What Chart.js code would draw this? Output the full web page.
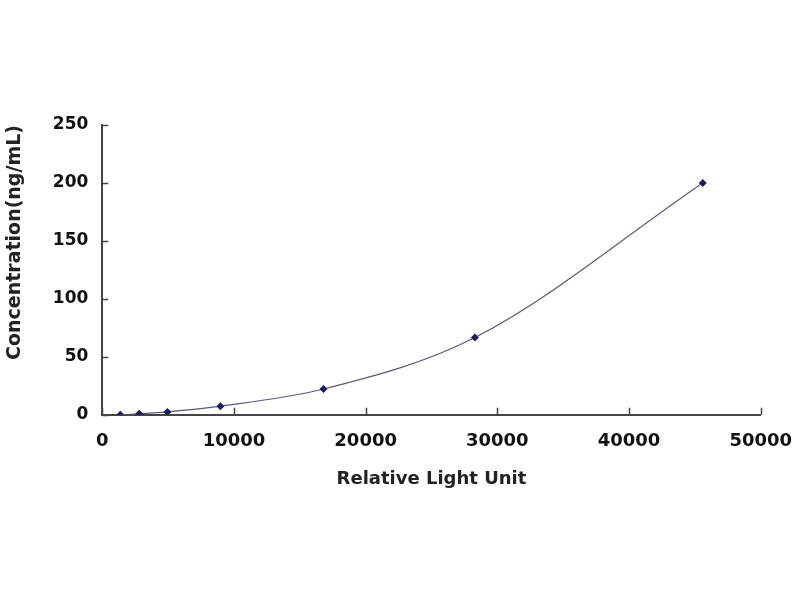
<!DOCTYPE html>
<html>
<head>
<meta charset="utf-8">
<script src="https://cdn.jsdelivr.net/npm/chart.js@4"></script>
<style>
  html, body { margin: 0; padding: 0; background: #fff; }
  #wrap { width: 800px; height: 600px; }
</style>
</head>
<body>
<div id="wrap"><canvas id="chart_1"></canvas></div>
<script>
// standard curve values
const rlu = [1370, 2800, 4950, 8970, 16800, 28300, 45600]
const conc = [0, 0.82, 2.47, 7.41, 22.22, 66.67, 200]
const x_ticks = [0, 10000, 20000, 30000, 40000, 50000]
const y_ticks = [0, 50, 100, 150, 200, 250]

const points = rlu.map((v, i) => ({ x: v, y: conc[i] }))

// short tick marks pointing into the plot, like the original
const inner_ticks = {
    id: "inner_ticks",
    afterDraw(chart) {
        const ctx = chart.ctx
        const xs = chart.scales.x
        const ys = chart.scales.y
        ctx.save()
        ctx.strokeStyle = "#444"
        ctx.lineWidth = 1.5
        ctx.beginPath()
        for (let t of x_ticks) {
            const px = Math.round(xs.getPixelForValue(t)) + 0.5
            ctx.moveTo(px, ys.bottom)
            ctx.lineTo(px, ys.bottom - 7)
        }
        for (let t of y_ticks) {
            const py = Math.round(ys.getPixelForValue(t)) + 0.5
            ctx.moveTo(xs.left, py)
            ctx.lineTo(xs.left + 6, py)
        }
        ctx.stroke()
        ctx.restore()
    }
}

const fam = "'DejaVu Sans', 'Liberation Sans', sans-serif"

const config_1 = {
    type: "scatter",
    data: {
        datasets: [
            {
                data: points,
                showLine: true,
                cubicInterpolationMode: "monotone",
                borderColor: "#5a5a7a",
                borderWidth: 1.2,
                pointStyle: "rectRot",
                pointRadius: 4,
                pointBackgroundColor: "#1c1c5a",
                pointBorderColor: "#1c1c5a",
                pointBorderWidth: 0
            }
        ]
    },
    options: {
        responsive: true,
        maintainAspectRatio: false,
        animation: false,
        layout: { padding: { left: 2, right: 39, top: 125, bottom: 106 } },
        plugins: { legend: { display: false }, tooltip: { enabled: false } },
        scales: {
            x: {
                type: "linear",
                min: 0,
                max: 50000,
                afterBuildTicks: (s) => { s.ticks = x_ticks.map(v => ({ value: v })) },
                grid: { display: false },
                border: { display: true, color: "#444", width: 2 },
                ticks: { color: "#111", font: { family: fam, size: 18, weight: "bold" }, padding: 8, maxRotation: 0, callback: (v) => String(v) },
                title: { display: true, text: "Relative Light Unit", color: "#222", font: { family: fam, size: 18, weight: "bold" }, padding: { top: 8 } }
            },
            y: {
                type: "linear",
                min: 0,
                max: 250,
                afterBuildTicks: (s) => { s.ticks = y_ticks.map(v => ({ value: v })) },
                grid: { display: false },
                border: { display: true, color: "#444", width: 2 },
                ticks: { color: "#111", font: { family: fam, size: 17, weight: "bold" }, padding: 6 },
                title: { display: true, text: "Concentration(ng/mL)", color: "#222", align: "end", font: { family: fam, size: 19, weight: "bold" }, padding: { top: 2, bottom: 20 } }
            }
        }
    },
    plugins: [inner_ticks]
}

const chart_1 = new Chart(document.getElementById("chart_1").getContext("2d"), config_1)
</script>
</body>
</html>
